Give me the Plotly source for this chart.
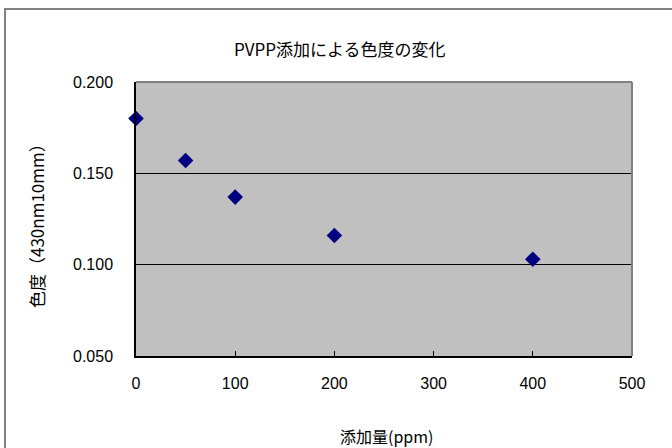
import plotly.graph_objects as go

# data
ppm = [0, 50, 100, 200, 400]
chroma = [0.180, 0.157, 0.137, 0.116, 0.103]
x_ticks = [0, 100, 200, 300, 400, 500]
y_ticks = [0.050, 0.100, 0.150, 0.200]
y_tick_labels = ["0.050", "0.100", "0.150", "0.200"]

title_text = "PVPP添加による色度の変化"
x_title = "添加量(ppm)"
y_title = "色度（430nm10mm）"

W, H = 672, 448
L, R, T, B = 136, 40, 82, 92
pw, ph = W - L - R, H - T - B

font_fam = "Noto Sans CJK JP, Liberation Sans, sans-serif"
num_fam = "Liberation Sans, Arial, sans-serif"

fig = go.Figure()
fig.add_trace(go.Scatter(
    x=ppm, y=chroma, mode="markers",
    marker=dict(symbol="diamond", size=12, color="#000080",
                line=dict(width=0)),
    cliponaxis=False, showlegend=False,
))

def px_x(p):
    return (p - L) / pw

def px_y(p):
    return (H - B - p) / ph

fig.update_layout(
    width=W, height=H,
    margin=dict(l=L, r=R, t=T, b=B),
    paper_bgcolor="white",
    plot_bgcolor="#C0C0C0",
    font=dict(family=font_fam, size=16, color="black"),
    showlegend=False,
    xaxis=dict(
        range=[0, 500], tickvals=x_ticks, ticks="inside", ticklen=5,
        tickcolor="black", showgrid=False, zeroline=False,
        showline=True, linecolor="black", linewidth=1.5,
        mirror=False, tickfont=dict(size=16, family=num_fam),
        ticklabelstandoff=12,
    ),
    yaxis=dict(
        range=[0.050, 0.200], tickvals=y_ticks, ticktext=y_tick_labels,
        ticks="inside", ticklen=5, tickcolor="black",
        showgrid=True, gridcolor="black", gridwidth=1,
        zeroline=False, showline=True, linecolor="black", linewidth=1.5,
        tickfont=dict(size=16, family=num_fam), ticklabelstandoff=18,
    ),
    shapes=[
        dict(type="line", xref="paper", yref="paper", x0=0, x1=1, y0=1, y1=1,
             line=dict(color="#808080", width=2)),
        dict(type="line", xref="paper", yref="paper", x0=1, x1=1, y0=0, y1=1,
             line=dict(color="#808080", width=2)),
        dict(type="rect", xref="paper", yref="paper",
             x0=px_x(5), x1=px_x(690), y0=px_y(470), y1=px_y(9),
             line=dict(color="#808080", width=2), layer="below"),
    ],
    annotations=[
        dict(text=title_text, xref="paper", yref="paper",
             x=px_x(340), y=px_y(49), showarrow=False,
             font=dict(size=17), xanchor="center", yanchor="middle"),
        dict(text=x_title, xref="paper", yref="paper",
             x=px_x(386), y=px_y(436), showarrow=False,
             font=dict(size=16), xanchor="center", yanchor="middle"),
        dict(text=y_title, xref="paper", yref="paper",
             x=px_x(36), y=px_y(222), showarrow=False, textangle=-90,
             font=dict(size=17), xanchor="center", yanchor="middle"),
    ],
)

fig.write_html("out.html", config={"displayModeBar": False},
               post_script="document.body.style.margin='0';")
